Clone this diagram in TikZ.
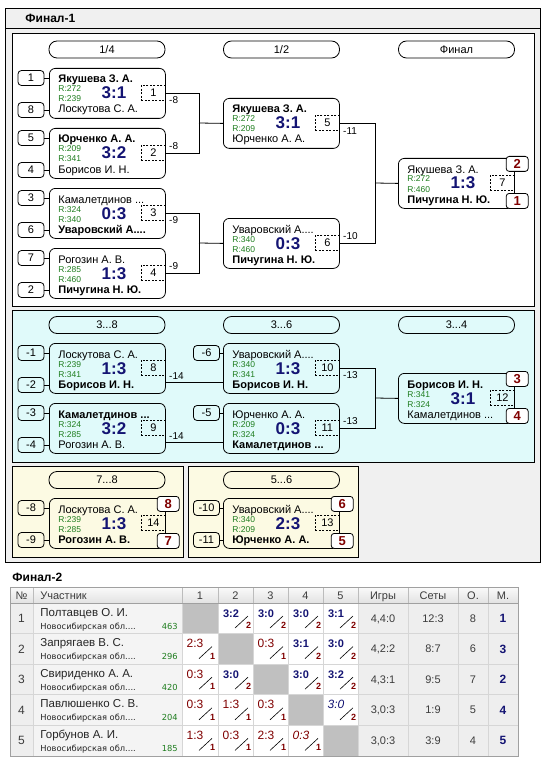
\documentclass[tikz,border=0pt]{standalone}
\usepackage{fontspec}
\setmainfont{Liberation Sans}
\newfontfamily\regfont{DejaVu Sans}
\usetikzlibrary{calc}
\definecolor{scnavy}{RGB}{20,20,115}
\definecolor{rgreen}{RGB}{30,125,30}
\definecolor{dred}{RGB}{128,0,0}
\definecolor{panelgray}{RGB}{240,240,240}
\definecolor{cyanbg}{RGB}{224,250,250}
\definecolor{creambg}{RGB}{252,250,227}
\definecolor{cellgray}{RGB}{238,238,238}
\definecolor{namegray}{RGB}{244,244,244}
\definecolor{diag}{RGB}{192,192,192}
\definecolor{gridc}{RGB}{214,214,214}
\definecolor{bordc}{RGB}{160,160,160}
\definecolor{hdtop}{RGB}{250,250,250}
\definecolor{hdbot}{RGB}{226,226,226}
\definecolor{tgray}{RGB}{60,60,60}
\tikzset{
 matchbox/.style={draw=black, rounded corners=6pt, minimum width=116pt, minimum height=50pt, inner sep=0pt},
 nm/.style={font=\fontsize{11}{12}\selectfont, inner sep=0pt},
 rt/.style={font=\fontsize{8.5}{9}\selectfont, text=rgreen, inner sep=0pt},
 sc/.style={font=\fontsize{17}{18}\selectfont\bfseries, text=scnavy, inner sep=0pt},
 gamebox/.style={draw, dash pattern=on 2pt off 1.5pt, minimum width=24pt, minimum height=15pt, inner sep=0pt, font=\fontsize{11}{12}\selectfont},
 seedbox/.style={draw, rounded corners=3.5pt, minimum width=26pt, minimum height=15pt, inner sep=0pt, font=\fontsize{11}{12}\selectfont},
 pill/.style={draw, rounded corners=8pt, minimum width=116pt, minimum height=17pt, inner sep=0pt, font=\fontsize{11}{12}\selectfont},
 resbox/.style={draw, fill=white, rounded corners=3pt, minimum width=22pt, minimum height=15pt, inner sep=0pt, font=\fontsize{13}{14}\selectfont\bfseries, text=dred},
 lbl/.style={font=\fontsize{10}{11}\selectfont, inner sep=0pt, anchor=west},
 ttl/.style={font=\fontsize{12}{13}\selectfont\bfseries, inner sep=0pt, anchor=base west},
 thd/.style={font=\fontsize{11}{12}\selectfont, text=tgray, inner sep=0pt, anchor=base},
 tres/.style={font=\fontsize{11}{12}\selectfont, text=tgray, inner sep=0pt, anchor=base},
 tplace/.style={font=\fontsize{12}{13}\selectfont\bfseries, text=scnavy, inner sep=0pt, anchor=base},
 tname/.style={font=\fontsize{11.5}{12}\selectfont, text=black!85, inner sep=0pt, anchor=base west},
 treg/.style={font=\regfont\fontsize{8.3}{9}\selectfont, text=black!85, inner sep=0pt, anchor=base west},
 trat/.style={font=\regfont\fontsize{8.3}{9}\selectfont, text=rgreen, inner sep=0pt, anchor=base east},
 win/.style={font=\fontsize{11}{12}\selectfont\bfseries, text=scnavy, inner sep=0pt, anchor=base},
 winit/.style={font=\fontsize{12}{13}\selectfont\itshape, text=scnavy, inner sep=0pt, anchor=base},
 loss/.style={font=\fontsize{12}{13}\selectfont, text=dred, inner sep=0pt, anchor=base},
 lossit/.style={font=\fontsize{12}{13}\selectfont\itshape, text=dred, inner sep=0pt, anchor=base},
 dig/.style={font=\fontsize{9}{10}\selectfont\bfseries, text=dred, inner sep=0pt, anchor=base},
 slash/.style={line width=0.6pt},
}
\newcommand{\MatchBx}[9]{%
 \node[matchbox, anchor=north west] (#1) at (#2,#3) {};
 \node[nm, anchor=base west] (#1-a) at ([shift={(9,15)}]#1.north west) {#4};
 \node[rt, anchor=base west] (#1-r1) at ([shift={(9,24)}]#1.north west) {R:#5};
 \node[rt, anchor=base west] (#1-r2) at ([shift={(9,34)}]#1.north west) {R:#6};
 \node[sc, anchor=base] (#1-s) at ([shift={(65,31)}]#1.north west) {#7};
 \node[nm, anchor=base west] (#1-b) at ([shift={(9,45)}]#1.north west) {#8};
 \node[gamebox, anchor=north east] (#1-g) at ([shift={(0,17)}]#1.north east) {#9};
}
\newcommand{\SeedBx}[5]{%
 \node[seedbox] (#1) at (#2,#3) {#4};
 \draw (#1.east) -- (#1.east -| #5.west);
}
\newcommand{\ResBx}[3]{%
 \node[resbox, anchor=north west] (#1-p1) at ([shift={(-9,-2)}]#1.north east) {#2};
 \node[resbox, anchor=south west] (#1-p2) at ([shift={(-9,0)}]#1.south east) {#3};
}
\newcommand{\SCell}[6]{%
 \node[#4] (#1) at (#2+13,#3+14) {#5};
 \draw[slash] (#2+17,#3+25) -- (#2+30,#3+13);
 \node[dig] (#1-d) at (#2+30.5,#3+25.5) {#6};
}
\newcommand{\TRow}[9]{%
 \node[thd, font=\fontsize{12}{13}\selectfont] (r#1-no) at (21.5,#2+19.5) {#1};
 \node[tname] (r#1-nm) at (40,#2+13) {#3};
 \node[treg] (r#1-rg) at (40,#2+26) {Новосибирская обл....};
 \node[trat] (r#1-rt) at (178,#2+26) {#4};
 \node[tres] (r#1-g) at (383,#2+19) {#5};
 \node[tres] (r#1-s) at (433,#2+19) {#6};
 \node[tres] (r#1-o) at (473,#2+19) {#7};
 \node[tplace] (r#1-m) at (503,#2+19.5) {#8};
}
\begin{document}
\begin{tikzpicture}[x=1pt,y=-1pt,line width=0.8pt]
\useasboundingbox (0,0) rectangle (549,762);
\fill[white] (0,0) rectangle (549,762);
% ---------- Final-1 frame
\fill[panelgray] (5,8) rectangle (540,562);
\draw (5,8) rectangle (540,562);
\draw (5,28) -- (540,28);
\node[ttl] (t1) at (25,22.5) {Финал-1};
\draw[fill=white] (12,33) rectangle (534,306);
\draw[fill=cyanbg] (12,310) rectangle (534,462);
\draw[fill=creambg] (12,466) rectangle (183,557);
\draw[fill=creambg] (188,466) rectangle (358,557);
% headers
\node[pill] (h14) at (107,49.5) {1/4};
\node[pill] (h12) at (281.5,49.5) {1/2};
\node[pill] (hf) at (456.5,49.5) {Финал};
\node[pill] (h38) at (107,325) {3...8};
\node[pill] (h36) at (281.5,325) {3...6};
\node[pill] (h34) at (456.5,325) {3...4};
\node[pill] (h78) at (107,480) {7...8};
\node[pill] (h56) at (281.5,480) {5...6};
% matches
\MatchBx{m1}{49}{68}{\bfseries Якушева З. А.}{272}{239}{3:1}{Лоскутова С. А.}{1}
\MatchBx{m2}{49}{128}{\bfseries Юрченко А. А.}{209}{341}{3:2}{Борисов И. Н.}{2}
\MatchBx{m3}{49}{188}{Камалетдинов ...}{324}{340}{0:3}{\bfseries Уваровский А....}{3}
\MatchBx{m4}{49}{248}{Рогозин А. В.}{285}{460}{1:3}{\bfseries Пичугина Н. Ю.}{4}
\MatchBx{m5}{223}{98}{\bfseries Якушева З. А.}{272}{209}{3:1}{Юрченко А. А.}{5}
\MatchBx{m6}{223}{218}{Уваровский А....}{340}{460}{0:3}{\bfseries Пичугина Н. Ю.}{6}
\MatchBx{m7}{398}{158}{Якушева З. А.}{272}{460}{1:3}{\bfseries Пичугина Н. Ю.}{7}
\MatchBx{m8}{49}{343}{Лоскутова С. А.}{239}{341}{1:3}{\bfseries Борисов И. Н.}{8}
\MatchBx{m9}{49}{403}{\bfseries Камалетдинов ...}{324}{285}{3:2}{Рогозин А. В.}{9}
\MatchBx{m10}{223}{343}{Уваровский А....}{340}{341}{1:3}{\bfseries Борисов И. Н.}{10}
\MatchBx{m11}{223}{403}{Юрченко А. А.}{209}{324}{0:3}{\bfseries Камалетдинов ...}{11}
\MatchBx{m12}{398}{373}{\bfseries Борисов И. Н.}{341}{324}{3:1}{Камалетдинов ...}{12}
\MatchBx{m14}{49}{498}{Лоскутова С. А.}{239}{285}{1:3}{\bfseries Рогозин А. В.}{14}
\MatchBx{m13}{223}{498}{Уваровский А....}{340}{209}{2:3}{\bfseries Юрченко А. А.}{13}
% seeds
\SeedBx{s1}{31}{78}{1}{m1}
\SeedBx{s8}{31}{110}{8}{m1}
\SeedBx{s5}{31}{138}{5}{m2}
\SeedBx{s4}{31}{170}{4}{m2}
\SeedBx{s3}{31}{198}{3}{m3}
\SeedBx{s6}{31}{230}{6}{m3}
\SeedBx{s7}{31}{258}{7}{m4}
\SeedBx{s2}{31}{290}{2}{m4}
\SeedBx{sm1}{31}{353}{-1}{m8}
\SeedBx{sm2}{31}{385}{-2}{m8}
\SeedBx{sm3}{31}{413}{-3}{m9}
\SeedBx{sm4}{31}{445}{-4}{m9}
\SeedBx{sm6}{206.5}{353}{-6}{m10}
\SeedBx{sm5}{206.5}{413}{-5}{m11}
\SeedBx{sm8}{31}{508}{-8}{m14}
\SeedBx{sm9}{31}{540}{-9}{m14}
\SeedBx{sm10}{206.5}{508}{-10}{m13}
\SeedBx{sm11}{206.5}{540}{-11}{m13}
% connectors
\coordinate (j1) at (199,123);
\coordinate (j2) at (199,243);
\coordinate (j3) at (375,183);
\coordinate (j4) at (375,398);
\draw (m1.east) -| (j1); \draw (m2.east) -| (j1); \draw (j1) -- (m5.west);
\draw (m3.east) -| (j2); \draw (m4.east) -| (j2); \draw (j2) -- (m6.west);
\draw (m5.east) -| (j3); \draw (m6.east) -| (j3); \draw (j3) -- (m7.west);
\coordinate (o8) at ([shift={(0,14)}]m8.east);
\coordinate (o9) at ([shift={(0,14)}]m9.east);
\draw (o8) -- (o8 -| m10.west);
\draw (o9) -- (o9 -| m11.west);
\draw (m10.east) -| (j4); \draw (m11.east) -| (j4); \draw (j4) -- (m12.west);
% labels
\node[lbl] (l1) at ([shift={(3,7)}]m1.east) {-8};
\node[lbl] (l2) at ([shift={(3,-7)}]m2.east) {-8};
\node[lbl] (l3) at ([shift={(3,7)}]m3.east) {-9};
\node[lbl] (l4) at ([shift={(3,-7)}]m4.east) {-9};
\node[lbl] (l5) at ([shift={(3,8)}]m5.east) {-11};
\node[lbl] (l6) at ([shift={(3,-7)}]m6.east) {-10};
\node[lbl] (l8) at ([shift={(3,-6)}]o8) {-14};
\node[lbl] (l9) at ([shift={(3,-6)}]o9) {-14};
\node[lbl] (l10) at ([shift={(3,7)}]m10.east) {-13};
\node[lbl] (l11) at ([shift={(3,-7)}]m11.east) {-13};
% results
\ResBx{m7}{2}{1}
\ResBx{m12}{3}{4}
\ResBx{m14}{8}{7}
\ResBx{m13}{6}{5}
% ---------- Final-2 table
\node[ttl] (t2) at (12,581.5) {Финал-2};
\shade[top color=hdtop, bottom color=hdbot] (10,587) rectangle (518,603);
\fill[cellgray] (10,603) rectangle (33,756);
\fill[namegray] (33,603) rectangle (182,756);
\fill[white] (182,603) rectangle (358,756);
\fill[cellgray] (358,603) rectangle (518,756);
\fill[diag] (182,603) rectangle (218,633.6);
\fill[diag] (218,633.6) rectangle (253,664.2);
\fill[diag] (253,664.2) rectangle (288,694.8);
\fill[diag] (288,694.8) rectangle (323,725.4);
\fill[diag] (323,725.4) rectangle (358,756);
\foreach \yy in {633.6,664.2,694.8,725.4} \draw[gridc] (10,\yy) -- (518,\yy);
\foreach \xx in {33,182,218,253,288,323,358,408,458,488} \draw[gridc] (\xx,603) -- (\xx,756);
\foreach \xx in {33,182,218,253,288,323,358,408,458,488} \draw[bordc!70] (\xx,587) -- (\xx,603);
\draw[bordc] (10,603) -- (518,603);
\draw[bordc] (10,587) rectangle (518,756);
% header texts
\node[thd] (hn) at (21.5,599) {№};
\node[thd, anchor=base west] (hp) at (40,599) {Участник};
\node[thd] (hc1) at (200,599) {1};
\node[thd] (hc2) at (235.5,599) {2};
\node[thd] (hc3) at (270.5,599) {3};
\node[thd] (hc4) at (305.5,599) {4};
\node[thd] (hc5) at (340.5,599) {5};
\node[thd] (hg) at (383,599) {Игры};
\node[thd] (hs) at (433,599) {Сеты};
\node[thd] (ho) at (473,599) {О.};
\node[thd] (hm) at (503,599) {М.};
% rows
\TRow{1}{603}{Полтавцев О. И.}{463}{4,4:0}{12:3}{8}{1}{}
\TRow{2}{633.6}{Запрягаев В. С.}{296}{4,2:2}{8:7}{6}{3}{}
\TRow{3}{664.2}{Свириденко А. А.}{420}{4,3:1}{9:5}{7}{2}{}
\TRow{4}{694.8}{Павлюшенко С. В.}{204}{3,0:3}{1:9}{5}{4}{}
\TRow{5}{725.4}{Горбунов А. И.}{185}{3,0:3}{3:9}{4}{5}{}
% score cells
\SCell{c12}{218}{603}{win}{3:2}{2}
\SCell{c13}{253}{603}{win}{3:0}{2}
\SCell{c14}{288}{603}{win}{3:0}{2}
\SCell{c15}{323}{603}{win}{3:1}{2}
\SCell{c21}{182}{633.6}{loss}{2:3}{1}
\SCell{c23}{253}{633.6}{loss}{0:3}{1}
\SCell{c24}{288}{633.6}{win}{3:1}{2}
\SCell{c25}{323}{633.6}{win}{3:0}{2}
\SCell{c31}{182}{664.2}{loss}{0:3}{1}
\SCell{c32}{218}{664.2}{win}{3:0}{2}
\SCell{c34}{288}{664.2}{win}{3:0}{2}
\SCell{c35}{323}{664.2}{win}{3:2}{2}
\SCell{c41}{182}{694.8}{loss}{0:3}{1}
\SCell{c42}{218}{694.8}{loss}{1:3}{1}
\SCell{c43}{253}{694.8}{loss}{0:3}{1}
\SCell{c45}{323}{694.8}{winit}{3:0}{2}
\SCell{c51}{182}{725.4}{loss}{1:3}{1}
\SCell{c52}{218}{725.4}{loss}{0:3}{1}
\SCell{c53}{253}{725.4}{loss}{2:3}{1}
\SCell{c54}{288}{725.4}{lossit}{0:3}{1}
\end{tikzpicture}
\end{document}
